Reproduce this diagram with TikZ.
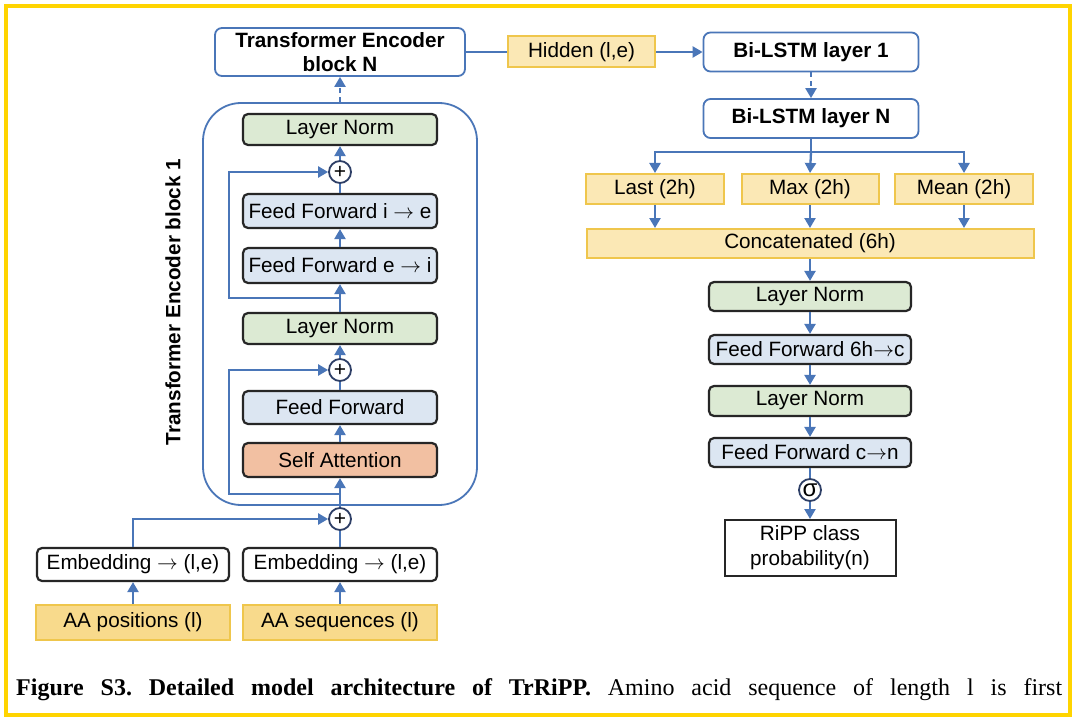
\documentclass[tikz,border=0pt]{standalone}
\usepackage{fontspec}
\setmainfont{Liberation Sans}
\newfontfamily\capfont{Liberation Serif}
\usetikzlibrary{arrows.meta}
\definecolor{lineblue}{HTML}{4A76B8}
\definecolor{frameyellow}{HTML}{FFD400}
\definecolor{lngreen}{HTML}{DCEAD3}
\definecolor{ffblue}{HTML}{DCE6F2}
\definecolor{saorange}{HTML}{F2C0A2}
\definecolor{aayellow}{HTML}{F8DA8C}
\definecolor{hidyellow}{HTML}{FBE8B5}
\definecolor{yborder}{HTML}{EFC64C}
\definecolor{circedge}{HTML}{2E3F66}
\begin{document}
\begin{tikzpicture}[x=1pt,y=-1pt,
  font=\fontsize{20.7}{25}\selectfont,
  box/.style={draw=black!85, line width=2.2pt, rounded corners=5pt, inner sep=0pt, align=center},
  bluebox/.style={draw=lineblue, line width=1.8pt, fill=white, rounded corners=7pt, inner sep=0pt, align=center, font=\bfseries\fontsize{20.7}{24}\selectfont},
  ybox/.style={draw=yborder, line width=2pt, fill=hidyellow, inner sep=0pt},
  aabox/.style={draw=yborder, line width=2pt, fill=aayellow, inner sep=0pt},
  opcirc/.style={circle, draw=circedge, line width=1.8pt, fill=white, minimum size=22pt, inner sep=0pt, font=\fontsize{21}{21}\selectfont},
  ln/.style={draw=lineblue, line width=2.3pt},
  arr/.style={draw=lineblue, line width=2.3pt, -{Triangle[length=10pt,width=11pt]}},
  dsh/.style={dash pattern=on 5pt off 4pt}]
\fill[white] (0,0) rectangle (1075,722);
\useasboundingbox (0,0) rectangle (1075,722);
\draw[frameyellow, line width=4pt] (6,6) rectangle (1070,715);

% encoder block 1 container
\node[draw=lineblue, line width=1.8pt, rounded corners=38pt, minimum width=274pt, minimum height=402pt, inner sep=0pt] (enc) at (340,304) {};
\node[rotate=90, font=\bfseries\fontsize{20.7}{25}\selectfont] (lbl) at (173,302) {Transformer Encoder block 1};

% left column
\node[bluebox, minimum width=250pt, minimum height=48pt] (TEN) at (340,52) {Transformer Encoder\\block N};
\node[box, fill=lngreen, minimum width=194pt, minimum height=31pt] (ln1) at (340,129.5) {Layer Norm};
\node[opcirc] (plus1) at (340,172) {+};
\node[box, fill=ffblue, minimum width=194pt, minimum height=34pt] (ffie) at (340,211) {Feed Forward i $\rightarrow$ e};
\node[box, fill=ffblue, minimum width=194pt, minimum height=35pt] (ffei) at (340,265.5) {Feed Forward e $\rightarrow$ i};
\node[box, fill=lngreen, minimum width=194pt, minimum height=31pt] (ln2) at (340,328.5) {Layer Norm};
\node[opcirc] (plus2) at (340,370) {+};
\node[box, fill=ffblue, minimum width=194pt, minimum height=33pt] (ff) at (340,407.5) {Feed Forward};
\node[box, fill=saorange, minimum width=194pt, minimum height=34pt] (sa) at (340,460) {Self Attention};
\node[opcirc] (plus3) at (340,519) {+};
\node[box, fill=white, minimum width=192pt, minimum height=33pt] (embL) at (133,564.5) {Embedding $\rightarrow$ (l,e)};
\node[box, fill=white, minimum width=194pt, minimum height=33pt] (embR) at (340,564.5) {Embedding $\rightarrow$ (l,e)};
\node[aabox, minimum width=194pt, minimum height=35pt] (aaP) at (133,622.5) {AA positions (l)};
\node[aabox, minimum width=194pt, minimum height=35pt] (aaS) at (340,622.5) {AA sequences (l)};

% right column
\node[ybox, minimum width=147pt, minimum height=31pt] (hid) at (581.5,52) {Hidden (l,e)};
\node[bluebox, minimum width=215pt, minimum height=39pt] (bi1) at (811,52) {Bi-LSTM layer 1};
\node[bluebox, minimum width=215pt, minimum height=39pt] (biN) at (811,118.5) {Bi-LSTM layer N};
\node[ybox, minimum width=138pt, minimum height=30pt] (last) at (655,189) {Last (2h)};
\node[ybox, minimum width=137pt, minimum height=30pt] (max) at (810,189) {Max (2h)};
\node[ybox, minimum width=138pt, minimum height=30pt] (mean) at (964,189) {Mean (2h)};
\node[ybox, minimum width=447pt, minimum height=29pt] (concat) at (810,243.5) {Concatenated (6h)};
\node[box, fill=lngreen, minimum width=202pt, minimum height=29pt] (rln1) at (810,296.5) {Layer Norm};
\node[box, fill=ffblue, minimum width=202pt, minimum height=29pt] (rff1) at (810,349.5) {Feed Forward 6h$\rightarrow$c};
\node[box, fill=lngreen, minimum width=202pt, minimum height=30pt] (rln2) at (810,401) {Layer Norm};
\node[box, fill=ffblue, minimum width=202pt, minimum height=29pt] (rff2) at (810,452.5) {Feed Forward c$\rightarrow$n};
\node[opcirc, font=\fontsize{24}{24}\selectfont] (sig) at (810,490) {σ};
\node[draw=black!85, line width=2pt, fill=white, inner sep=0pt, align=center, minimum width=171pt, minimum height=56pt] (ripp) at (810,548) {RiPP class\\probability(n)};

% left connectors
\coordinate (s1) at (340,298);
\coordinate (k1) at (229,298);
\coordinate (s2) at (340,494);
\coordinate (k2) at (229,494);
\draw[arr] (aaP) -- (embL);
\draw[arr] (aaS) -- (embR);
\draw[ln] (embR) -- (plus3);
\draw[arr] (embL.north) |- (plus3);
\draw[arr] (plus3) -- (sa);
\draw[arr] (s2) -- (k2) |- (plus2);
\draw[arr] (sa) -- (ff);
\draw[ln] (ff) -- (plus2);
\draw[arr] (plus2) -- (ln2);
\draw[arr] (ln2) -- (ffei);
\draw[arr] (s1) -- (k1) |- (plus1);
\draw[arr] (ffei) -- (ffie);
\draw[ln] (ffie) -- (plus1);
\draw[arr] (plus1) -- (ln1);
\draw[arr, dsh] (enc.north) -- (TEN.south);

% right connectors
\coordinate (br) at (811,152);
\draw[ln] (TEN.east) -- (hid.west);
\draw[arr] (hid.east) -- (bi1.west);
\draw[arr, dsh] (bi1) -- (biN);
\draw[arr] (biN.south) -- (br) -| (last.north);
\draw[arr] (br) -| (mean.north);
\draw[arr] (br) -- (max.north);
\draw[arr] (last) -- (last |- concat.north);
\draw[arr] (max) -- (concat);
\draw[arr] (mean) -- (mean |- concat.north);
\draw[arr] (concat) -- (rln1);
\draw[arr] (rln1) -- (rff1);
\draw[arr] (rff1) -- (rln2);
\draw[arr] (rln2) -- (rff2);
\draw[ln] (rff2) -- (sig);
\draw[arr] (sig) -- (ripp);

% caption
\node[anchor=base west, inner sep=0pt] (cap) at (16,695) {\capfont\fontsize{24}{28}\selectfont\frenchspacing\makebox[1046pt][s]{\bfseries Figure S3. Detailed model architecture of TrRiPP.\mdseries\ Amino acid sequence of length l is first}};
\end{tikzpicture}
\end{document}
